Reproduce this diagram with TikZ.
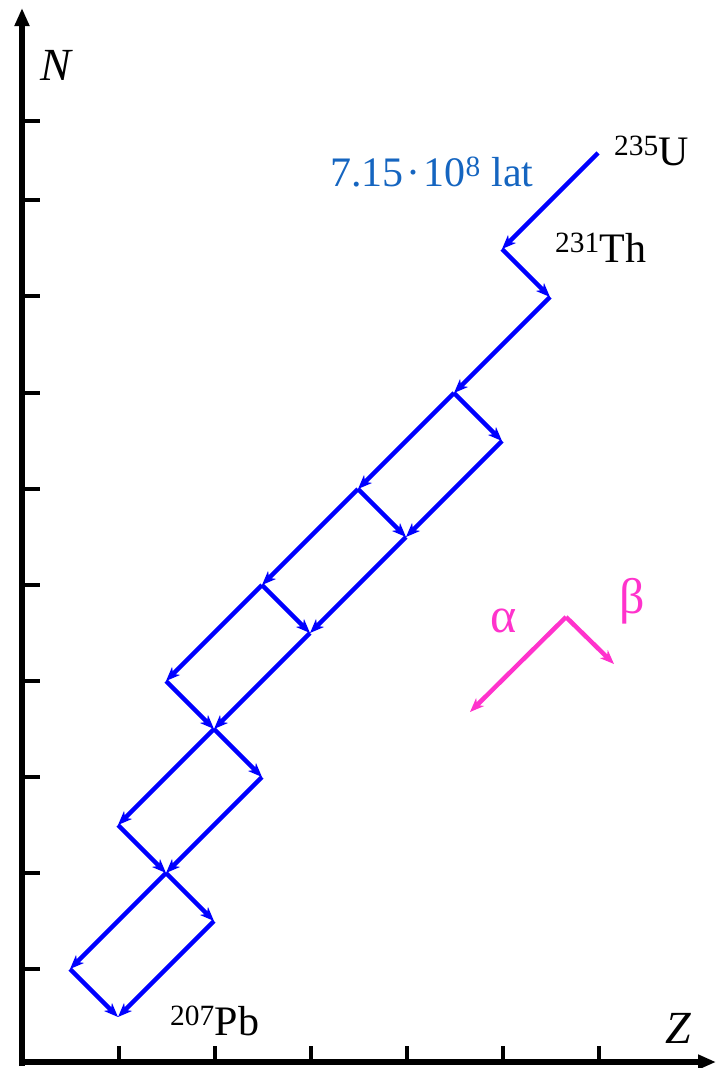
\documentclass[tikz,border=0pt]{standalone}
\usepackage{fontspec}
\setmainfont{Liberation Serif}
\usetikzlibrary{arrows.meta}
\definecolor{chain}{RGB}{0,0,255}
\definecolor{legend}{RGB}{255,51,204}
\definecolor{halflife}{RGB}{21,101,192}
\begin{document}
\begin{tikzpicture}[x=1pt,y=-1pt,
  axis/.style={line width=5.5pt,-{Triangle[length=18pt,width=14pt]}},
  tick/.style={line width=4pt},
  decay/.style={chain,line width=4.5pt,-{Stealth[length=14pt,width=11pt,inset=4pt]}},
  legarrow/.style={legend,line width=4.5pt,-{Stealth[length=14pt,width=11pt,inset=4pt]}},
  lbl/.style={inner sep=0pt,anchor=base west,font=\fontsize{42}{42}\selectfont},
  axlbl/.style={inner sep=0pt,anchor=base west,font=\fontsize{46}{46}\selectfont\itshape},
  greek/.style={inner sep=0pt,anchor=base west,text=legend,font=\fontsize{50}{50}\selectfont}]
\useasboundingbox (0,0) rectangle (716,1068);
% axes
\coordinate (o) at (22,1062);
\coordinate (ytop) at (22,8);
\coordinate (xend) at (716,1062);
\coordinate (ybot) at (22,1066);
\coordinate (xbeg) at (19,1062);
\draw[axis] (ybot) -- (ytop);
\draw[axis] (xbeg) -- (xend);
\foreach \y in {121,200,296,393,489,585,681,777,873,969}
  \draw[tick] (22,\y) -- (40,\y);
\foreach \x in {119,215,311,407,503,599}
  \draw[tick] (\x,1062) -- (\x,1046);
\node[axlbl] (lblN) at (40,80) {N};
\node[axlbl] (lblZ) at (665,1043) {Z};
% nuclides
\coordinate (U235) at (598,153);
\coordinate (Th231) at (502,249);
\coordinate (Pa231) at (550,297);
\coordinate (Ac227) at (454,393);
\coordinate (Th227) at (502,441);
\coordinate (Fr223) at (358,489);
\coordinate (Ra223) at (406,537);
\coordinate (At219) at (262,585);
\coordinate (Rn219) at (310,633);
\coordinate (Bi215) at (166,681);
\coordinate (Po215) at (214,729);
\coordinate (Pb211) at (118,825);
\coordinate (At215) at (262,777);
\coordinate (Bi211) at (166,873);
\coordinate (Tl207) at (70,969);
\coordinate (Po211) at (214,921);
\coordinate (Pb207) at (118,1017);
\draw[decay] (U235) -- (Th231);
\draw[decay] (Th231) -- (Pa231);
\draw[decay] (Pa231) -- (Ac227);
\draw[decay] (Ac227) -- (Th227);
\draw[decay] (Ac227) -- (Fr223);
\draw[decay] (Th227) -- (Ra223);
\draw[decay] (Fr223) -- (Ra223);
\draw[decay] (Fr223) -- (At219);
\draw[decay] (Ra223) -- (Rn219);
\draw[decay] (At219) -- (Rn219);
\draw[decay] (At219) -- (Bi215);
\draw[decay] (Rn219) -- (Po215);
\draw[decay] (Bi215) -- (Po215);
\draw[decay] (Po215) -- (Pb211);
\draw[decay] (Po215) -- (At215);
\draw[decay] (At215) -- (Bi211);
\draw[decay] (Pb211) -- (Bi211);
\draw[decay] (Bi211) -- (Tl207);
\draw[decay] (Bi211) -- (Po211);
\draw[decay] (Po211) -- (Pb207);
\draw[decay] (Tl207) -- (Pb207);
% labels
\node[lbl] (lblU) at (614,165) {\textsuperscript{235}U};
\node[lbl] (lblTh) at (555,262) {\textsuperscript{231}Th};
\node[lbl] (lblPb) at (170,1035) {\textsuperscript{207}Pb};
\node[lbl,text=halflife] (lblT) at (330,186) {7.15\kern3pt·\kern3pt10\textsuperscript{8} lat};
% legend
\coordinate (L0) at (566,617);
\coordinate (LA) at (470,712);
\coordinate (LB) at (614,664);
\draw[legarrow] (L0) -- (LA);
\draw[legarrow] (L0) -- (LB);
\node[greek] (lblA) at (490,632) {α};
\node[greek] (lblB) at (619,613) {β};
\end{tikzpicture}
\end{document}
